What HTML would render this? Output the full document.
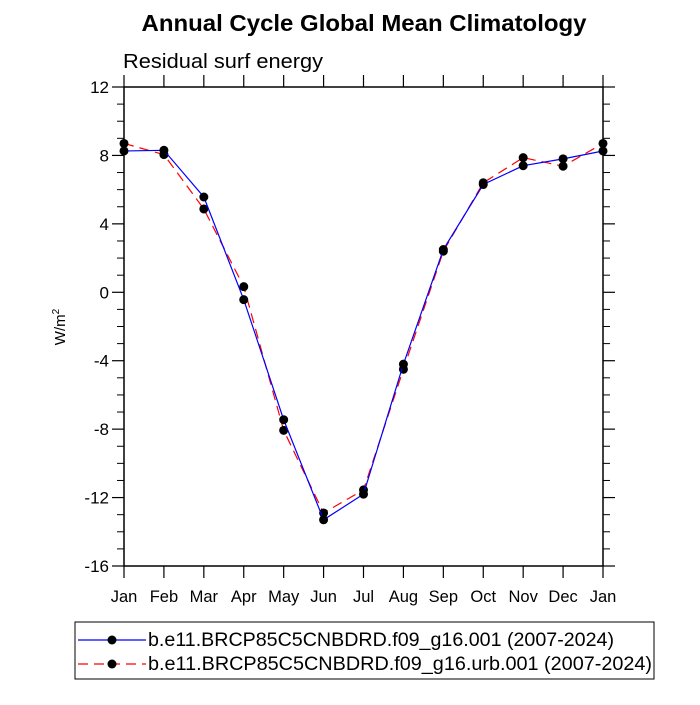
<!DOCTYPE html>
<html><head><meta charset="utf-8"><style>
body{margin:0;background:#fff;}
svg text{font-family:"Liberation Sans",sans-serif;}
</style></head><body>
<svg id="c" width="700" height="700" xmlns="http://www.w3.org/2000/svg">
<text x="364" y="31" font-size="23" font-weight="bold" text-anchor="middle" textLength="445" lengthAdjust="spacingAndGlyphs">Annual Cycle Global Mean Climatology</text>
<text x="123" y="68" font-size="20" textLength="200" lengthAdjust="spacingAndGlyphs">Residual surf energy</text>
<text transform="translate(65,327) rotate(-90)" font-size="15" text-anchor="middle">W/m<tspan font-size="10" dy="-6">2</tspan></text>
<rect x="124" y="87" width="479" height="479" fill="none" stroke="#000" stroke-width="1.5"/>
<g id="ticks"></g>
<g id="series"></g>
<rect x="75" y="622" width="579" height="57" fill="none" stroke="#000" stroke-width="1"/>
<g>
<line x1="78" y1="640" x2="146" y2="640" stroke="#00f" stroke-width="1.2"/>
<circle cx="112" cy="640" r="4.5"/>
<text x="148" y="646" font-size="19.5" textLength="466" lengthAdjust="spacingAndGlyphs">b.e11.BRCP85C5CNBDRD.f09_g16.001 (2007-2024)</text>
</g>
<g>
<line x1="78" y1="664" x2="146" y2="664" stroke="#f00" stroke-width="1.2" stroke-dasharray="10,6"/>
<circle cx="112" cy="664" r="4.5"/>
<text x="148" y="670" font-size="19.5" textLength="504" lengthAdjust="spacingAndGlyphs">b.e11.BRCP85C5CNBDRD.f09_g16.urb.001 (2007-2024)</text>
</g>
</svg>
<script>
const months=["Jan","Feb","Mar","Apr","May","Jun","Jul","Aug","Sep","Oct","Nov","Dec","Jan"];
const baseVals=[8.26,8.3,5.57,-0.43,-7.45,-13.3,-11.8,-4.2,2.5,6.3,7.4,7.8,8.26];
const urbVals=[8.7,8.05,4.87,0.33,-8.07,-12.9,-11.55,-4.5,2.4,6.4,7.87,7.37,8.7];
const yTicks=[-16,-12,-8,-4,0,4,8,12];
const NS="http://www.w3.org/2000/svg";
const X0=124,X1=603,Y0=566,Y1=87,YMIN=-16,YMAX=12;
const xs=i=>X0+(X1-X0)*i/(months.length-1);
const ys=v=>Y0-(v-YMIN)/(YMAX-YMIN)*(Y0-Y1);
function mk(t,a,p){const e=document.createElementNS(NS,t);for(const k in a)e.setAttribute(k,a[k]);p.appendChild(e);return e;}
const tg=document.getElementById('ticks');
for(let v=YMIN;v<=YMAX;v++){const maj=(v-YMIN)%4===0;const L=maj?12:7;const y=ys(v);
 const l=mk('line',{x1:X0-L,x2:X0,y1:y,y2:y,stroke:'#000','stroke-width':maj?1.2:1},tg);
 
 
 mk('line',{x1:X1,x2:X1+L,y1:y,y2:y,stroke:'#000','stroke-width':maj?1.2:1},tg);}
yTicks.forEach(v=>{const t=mk('text',{x:X0-15,y:ys(v)+6,'font-size':17,'text-anchor':'end'},tg);t.textContent=v;
 
 });
months.forEach((m,i)=>{const x=xs(i);
 mk('line',{x1:x,x2:x,y1:Y0,y2:Y0+12,stroke:'#000','stroke-width':1.2},tg);
 mk('line',{x1:x,x2:x,y1:Y1-12,y2:Y1,stroke:'#000','stroke-width':1.2},tg);
 const t=mk('text',{x:x,y:602,'font-size':16.5,'text-anchor':'middle'},tg);t.textContent=m;
 
 });
const sg=document.getElementById('series');
function series(vals,color,dash,name){
 const p=mk('polyline',{points:vals.map((v,i)=>xs(i)+','+ys(v)).join(' '),fill:'none',stroke:color,'stroke-width':1.2},sg);
 if(dash)p.setAttribute('stroke-dasharray',dash);
 
 
 vals.forEach((v,i)=>{const c=mk('circle',{cx:xs(i),cy:ys(v),r:4.5,fill:'#000'},sg);
  
  });
}
series(urbVals,'#f00','10,6','urb-series');
series(baseVals,'#00f',null,'base-series');
</script>
</body></html>
